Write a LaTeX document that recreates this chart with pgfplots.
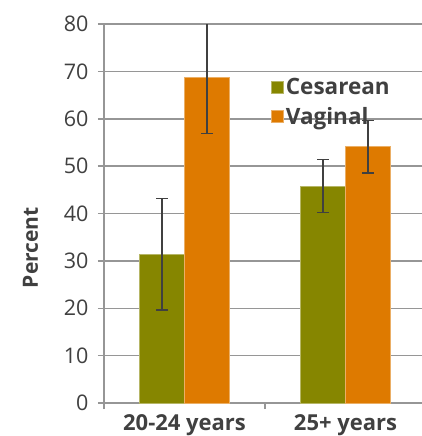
\documentclass[border=0pt]{standalone}
\usepackage{fontspec}
\setmainfont{Open Sans}
\usepackage{pgfplots}
\pgfplotsset{compat=1.18}
\definecolor{olivebar}{RGB}{134,134,0}
\definecolor{orangebar}{RGB}{222,122,0}
\definecolor{txt}{RGB}{64,64,64}
\definecolor{gridc}{RGB}{150,150,150}
\begin{document}
\begin{tikzpicture}
\begin{axis}[
  name=ax,
  scale only axis,
  width=318pt, height=379pt,
  xmin=-0.5, xmax=1.475,
  ymin=0, ymax=80,
  ytick={0,10,...,80},
  xtick={0,1},
  xticklabels={20-24 years,25+ years},
  minor xtick={-0.5,0.5,1.5},
  tick align=outside,
  major tick length=6pt,
  minor tick length=6pt,
  x tick style={draw=none},
  minor x tick style={draw=gridc, line width=1.5pt},
  y tick style={draw=gridc, line width=1.5pt},
  ymajorgrids,
  grid style={draw=gridc, line width=1.5pt},
  axis x line*=bottom,
  axis y line*=left,
  axis line style={draw=gridc, line width=1.5pt, -},
  separate axis lines,
  ybar=0pt,
  bar width=45pt,
  /pgf/number format/assume math mode=true,
  yticklabel style={font=\fontsize{21.5}{24}\selectfont, text=txt, xshift=-6pt},
  xticklabel style={font=\fontsize{22}{25}\selectfont\bfseries, text=txt, yshift=-2pt},
  ylabel={Percent},
  every axis y label/.style={at={(axis description cs:0,0.41)}, xshift=-73.5pt, rotate=90, anchor=center,
    font=\fontsize{21}{25}\selectfont\bfseries, text=txt},
  legend style={draw=none, fill=none, at={(axis description cs:0.516,0.867)}, anchor=north west,
    font=\fontsize{22.5}{29}\selectfont\bfseries, text=txt, row sep=7pt,
    /tikz/every even column/.append style={column sep=2pt}},
  legend cell align=left,
  legend image code/.code={\fill[#1] (0pt,-6pt) rectangle (12pt,6pt);},
  clip=true,
]
\addplot+[fill=olivebar, draw=olivebar!60!white, line width=0.6pt,
  error bars/.cd, y dir=both, y explicit,
  error bar style={draw=txt, line width=1.5pt},
  error mark options={draw=txt, line width=1.5pt, mark size=6pt, rotate=90}]
  coordinates {(0,31.4) +- (0,11.8) (1,45.8) +- (0,5.6)};
\addplot+[fill=orangebar, draw=orangebar!60!white, line width=0.6pt,
  error bars/.cd, y dir=both, y explicit,
  error bar style={draw=txt, line width=1.5pt},
  error mark options={draw=txt, line width=1.5pt, mark size=6pt, rotate=90}]
  coordinates {(0,68.7) +- (0,11.8) (1,54.1) +- (0,5.5)};
\legend{Cesarean,Vaginal}
\end{axis}
\pgfresetboundingbox
\path[use as bounding box] (ax.south west) ++(-104pt,-33pt) rectangle ++(422pt,436pt);
\end{tikzpicture}
\end{document}
